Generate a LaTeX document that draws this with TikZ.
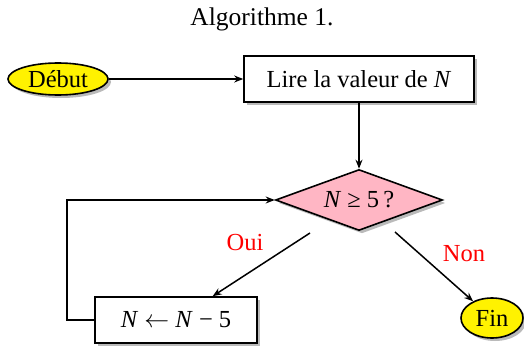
\documentclass[tikz,border=0pt]{standalone}
\usepackage{fontspec}
\setmainfont{Liberation Serif}
\usetikzlibrary{shapes.geometric,shadows,arrows.meta}
\definecolor{diapink}{RGB}{255,182,196}
\begin{document}
\begin{tikzpicture}[x=1pt,y=-1pt,
  every node/.style={font=\fontsize{24.5}{28}\selectfont},
  shad/.style={drop shadow={shadow xshift=3pt,shadow yshift=-3pt,opacity=0.45,fill=black!60}},
  term/.style={ellipse,draw,line width=1.6pt,fill=yellow,inner sep=0pt,shad},
  proc/.style={rectangle,draw,line width=1.6pt,fill=white,inner sep=0pt,shad},
  test/.style={diamond,draw,line width=1.6pt,fill=diapink,aspect=2.74,inner sep=0pt,shad},
  arr/.style={line width=1.5pt,-{Stealth[length=9pt,width=7pt]}},
  lab/.style={text=red}]
\useasboundingbox (0,0) rectangle (524,345);
\node (title) at (262,19) {\fontsize{25.5}{28}\selectfont Algorithme 1.};
\node[term,minimum width=100pt,minimum height=32pt] (deb) at (58,79) {Début};
\node[proc,minimum width=230pt,minimum height=46pt] (lire) at (359,79) {Lire la valeur de \textit{N}};
\node[test,minimum width=167pt,minimum height=61pt] (dia) at (359,200) {\textit{N} ≥ 5\,?};
\node[proc,minimum width=162pt,minimum height=46pt] (nb) at (176,320) {\textit{N} $\leftarrow$ \textit{N} − 5};
\node[term,minimum width=62pt,minimum height=40pt] (fin) at (492,318) {Fin};
\coordinate (o1) at (310,233);
\coordinate (n1) at (395,232);
\draw[arr] (deb) -- (lire);
\draw[arr] (lire) -- (dia);
\draw[arr] (o1) -- (nb);
\draw[arr] (n1) -- (fin);
\draw[arr] (nb.west) -- ++(-27,0) |- (dia.west);
\node[lab] (oui) at (245,243) {Oui};
\node[lab] (non) at (464,254) {Non};
\end{tikzpicture}
\end{document}
